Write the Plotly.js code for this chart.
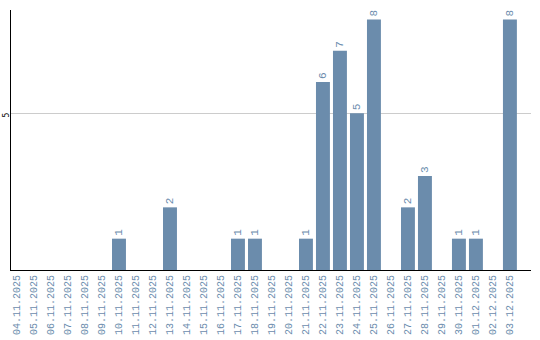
<!DOCTYPE html>
<html>
<head>
<meta charset="utf-8">
<script src="https://cdn.plot.ly/plotly-3.0.1.min.js"></script>
<style>html,body{margin:0;padding:0;background:#fff;}#chart{width:540px;height:340px;}</style>
</head>
<body>
<div id="chart"></div>
<script>
var dates = ["04.11.2025","05.11.2025","06.11.2025","07.11.2025","08.11.2025","09.11.2025","10.11.2025","11.11.2025","12.11.2025","13.11.2025","14.11.2025","15.11.2025","16.11.2025","17.11.2025","18.11.2025","19.11.2025","20.11.2025","21.11.2025","22.11.2025","23.11.2025","24.11.2025","25.11.2025","26.11.2025","27.11.2025","28.11.2025","29.11.2025","30.11.2025","01.12.2025","02.12.2025","03.12.2025"];
var counts = [0,0,0,0,0,0,1,0,0,2,0,0,0,1,1,0,0,1,6,7,5,8,0,2,3,0,1,1,0,8];
var yTicks = [5];

var labels = counts.map(function(v){ return v > 0 ? String(v) : ""; });

var trace = {
  type: "bar",
  x: dates,
  y: counts,
  text: labels,
  textposition: "outside",
  textangle: -90,
  cliponaxis: false,
  textfont: {family: "Liberation Mono", size: 11, color: "#6b8cad"},
  marker: {color: "#6b8cac"},
  hoverinfo: "none"
};

var layout = {
  width: 540, height: 340,
  margin: {l: 11, r: 9, t: 10, b: 70, pad: 0},
  paper_bgcolor: "#fff", plot_bgcolor: "#fff",
  bargap: 0.18,
  showlegend: false,
  xaxis: {
    type: "category",
    range: [-0.353, 30.24],
    tickangle: -90,
    tickfont: {family: "Liberation Mono", size: 10, color: "#6b8cad"},
    showline: true, linecolor: "#000", linewidth: 1,
    showgrid: false, ticks: "", zeroline: false,
    automargin: false
  },
  yaxis: {
    range: [0, 8.3],
    tickvals: yTicks,
    ticktext: yTicks.map(String),
    tickangle: -90,
    ticklabelstandoff: -2,
    ticklabelshift: 3,
    tickfont: {family: "DejaVu Sans Mono", size: 8, color: "#000"},
    showline: true, linecolor: "#000", linewidth: 1,
    showgrid: true, gridcolor: "#cccccc", gridwidth: 1,
    zeroline: false, ticks: "",
    automargin: false
  }
};

Plotly.newPlot("chart", [trace], layout, {staticPlot: true, displayModeBar: false});
</script>
</body>
</html>
